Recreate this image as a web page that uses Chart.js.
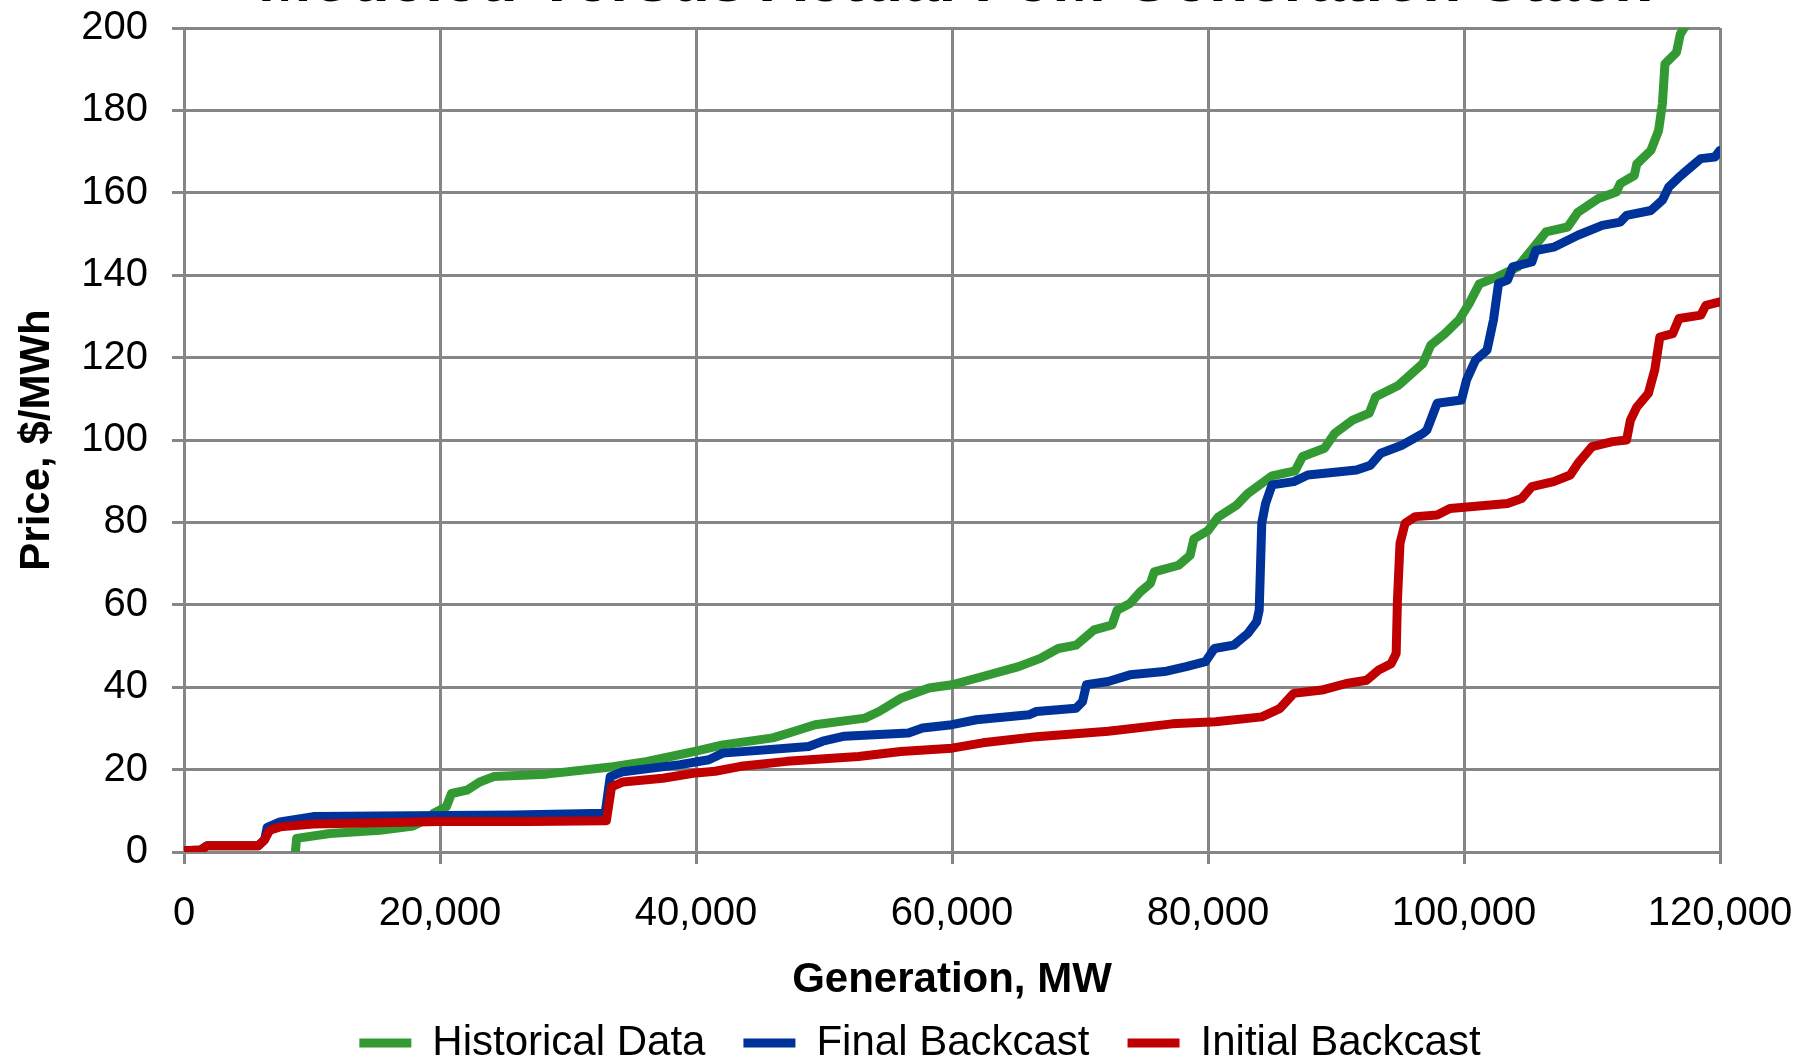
<!DOCTYPE html>
<html>
<head>
<meta charset="utf-8">
<script src="https://cdn.jsdelivr.net/npm/chart.js@4.4.1/dist/chart.umd.min.js"></script>
<style>
  html, body { margin: 0; padding: 0; background: #fff; overflow: hidden; }
  #wrap { position: relative; width: 1814px; height: 1058px; }
  #title {
    position: absolute; top: -53px; left: 954px; transform: translateX(-50%);
    font: bold 64px 'Liberation Sans', Arial, sans-serif; line-height: 1;
    white-space: nowrap; color: #000;
  }
</style>
</head>
<body>
<div id="wrap">
  <canvas id="chart"></canvas>
  <div id="title">Modeled Versus Actual PJM Generation Stack</div>
</div>
<script>
// Generation (MW) and price ($/MWh)
const histGen = [8700, 8800, 11400, 15300, 17900, 19000, 19500, 20500, 20900, 22100, 23100, 24200, 28300, 33500, 36100, 40000, 42100, 46000, 47700, 49300, 53200, 54300, 56000, 58200, 60000, 62400, 65200, 66900, 68300, 69700, 71100, 72500, 72900, 73900, 74700, 75500, 75800, 77700, 78600, 78900, 80000, 80800, 82200, 83100, 85000, 86800, 87400, 89100, 89900, 91300, 92600, 93100, 94900, 96800, 97400, 98500, 99600, 100400, 101200, 102600, 104200, 105900, 106400, 108100, 108900, 110500, 111900, 112200, 113300, 113500, 114600, 115200, 115500, 115700, 116600, 116900, 117400];
const histPrice = [0, 3.3, 4.5, 5.3, 6.3, 8, 9.4, 11, 14.2, 15, 17, 18.3, 18.9, 20.7, 21.9, 24.5, 26, 27.7, 29.3, 30.9, 32.5, 34.1, 37.3, 39.8, 40.6, 42.6, 45, 47, 49.4, 50.2, 53.9, 55.1, 58.7, 60.3, 63.1, 65.2, 68, 69.6, 72, 76, 78, 81.3, 84.1, 87, 91.3, 92.5, 96, 98, 101.6, 104.8, 106.5, 110.5, 113.3, 118.6, 123, 125.8, 129.1, 133.1, 137.9, 139.6, 142, 148.5, 150.5, 151.7, 155.3, 158.6, 160.2, 162.2, 164.2, 167, 170.3, 175.1, 181.6, 191.3, 194.1, 198.5, 201];

const finalGen = [0, 1300, 1800, 5800, 6300, 6500, 7500, 10100, 25700, 32900, 33300, 34300, 38750, 41000, 42100, 48800, 49900, 51600, 56600, 57700, 60000, 61900, 66000, 66600, 69700, 70200, 70500, 72200, 73900, 76600, 78300, 79800, 80500, 82000, 83100, 83800, 84000, 84200, 84500, 85000, 86700, 87800, 91600, 92700, 93500, 95200, 96800, 97100, 97900, 99800, 100200, 100900, 101800, 102300, 102700, 103400, 103800, 105300, 105600, 107000, 108900, 110800, 112200, 112700, 114600, 115500, 116000, 116800, 117700, 118500, 119600, 120000];
const finalPrice = [0.3, 0.5, 1.5, 1.5, 3, 6, 7.3, 8.6, 9.0, 9.4, 18.3, 19.5, 21.2, 22.4, 24, 25.6, 26.9, 28.1, 28.9, 30.1, 30.9, 32.1, 33.3, 34.1, 34.9, 36.5, 40.6, 41.4, 43, 43.8, 45, 46.2, 49.4, 50.2, 53, 55.9, 58.7, 79.8, 84.6, 89.1, 89.9, 91.5, 92.7, 93.9, 96.8, 98.8, 101.6, 102.4, 108.9, 109.7, 114.6, 119.4, 121.8, 129.1, 138, 138.8, 142, 143.2, 146, 146.8, 149.7, 152.1, 152.9, 154.5, 155.7, 158.2, 161.4, 163.8, 166.2, 168.3, 168.7, 170.3];

const initGen = [0, 1300, 1800, 5800, 6300, 6700, 7500, 10100, 20000, 27000, 33000, 33400, 34300, 37400, 40000, 41500, 43500, 47100, 52700, 56000, 60000, 62400, 66600, 72200, 77200, 80600, 84200, 85600, 86700, 88900, 90800, 92400, 93300, 94300, 94700, 94800, 95000, 95400, 96200, 97900, 98900, 103400, 104500, 105300, 107000, 108300, 108900, 110000, 111600, 112700, 113000, 113500, 114400, 114900, 115300, 116300, 116800, 118500, 118900, 120000];
const initPrice = [0.3, 0.5, 1.5, 1.5, 3, 5.3, 6.1, 6.8, 7.4, 7.4, 7.6, 15.8, 17, 17.9, 19.2, 19.6, 20.8, 22, 23.2, 24.4, 25.2, 26.5, 28, 29.3, 31.1, 31.6, 32.8, 34.8, 38.5, 39.3, 40.9, 41.7, 44.1, 45.7, 48.2, 61.1, 74.9, 79.8, 81.4, 81.8, 83.4, 84.6, 85.8, 88.7, 89.9, 91.5, 94.3, 98.4, 99.6, 100, 104.8, 108, 111.3, 117, 125, 125.8, 129.5, 130.3, 132.7, 133.5];

const seriesNames = ['Historical Data', 'Final Backcast', 'Initial Backcast'];
const seriesColors = ['#339933', '#003399', '#c00000'];

const FONT = "'Liberation Sans', Arial, sans-serif";
const GRID = '#868686';

const toPoints = (xs, ys) => xs.map((x, i) => ({ x: x, y: ys[i] }));
const sets = [toPoints(histGen, histPrice), toPoints(finalGen, finalPrice), toPoints(initGen, initPrice)];

new Chart(document.getElementById('chart'), {
  type: 'line',
  data: {
    datasets: sets.map((pts, i) => ({
      label: seriesNames[i],
      data: pts,
      borderColor: seriesColors[i],
      backgroundColor: seriesColors[i],
      borderWidth: 9,
      borderCapStyle: 'round',
      borderJoinStyle: 'round',
      pointRadius: 0,
      tension: 0,
      order: 2 - i   // red on top, like the original
    }))
  },
  options: {
    responsive: true,
    maintainAspectRatio: false,
    animation: false,
    // negative right padding moves the legend centre right; x axis keeps its own right margin
    layout: { padding: { left: 0, right: -26, top: 28, bottom: -16 } },
    plugins: {
      tooltip: { enabled: false },
      legend: {
        position: 'bottom',
        labels: {
          usePointStyle: true,
          pointStyle: 'line',
          pointStyleWidth: 52,
          padding: 38,
          color: '#000',
          font: { family: FONT, size: 42 },
          sort: (a, b) => a.datasetIndex - b.datasetIndex
        }
      }
    },
    scales: {
      x: {
        type: 'linear',
        min: 0,
        max: 120000,
        ticks: {
          stepSize: 20000,
          padding: 26,
          color: '#000',
          maxRotation: 0,
          font: { family: FONT, size: 40 }
        },
        grid: { color: GRID, lineWidth: 3, tickLength: 12, tickColor: GRID, tickWidth: 3 },
        border: { color: GRID, width: 3 },
        title: {
          display: true,
          text: 'Generation, MW',
          color: '#000',
          font: { family: FONT, size: 42, weight: 'bold' },
          padding: { top: 0, bottom: -22 }
        },
        afterFit: s => { s.height = 132; s.paddingLeft = 0; s.paddingRight = 94; }
      },
      y: {
        min: 0,
        max: 200,
        ticks: {
          stepSize: 20,
          padding: 24,
          color: '#000',
          font: { family: FONT, size: 40 }
        },
        grid: { color: GRID, lineWidth: 3, tickLength: 12, tickColor: GRID, tickWidth: 3 },
        border: { color: GRID, width: 3 },
        title: {
          display: true,
          text: 'Price, $/MWh',
          color: '#000',
          font: { family: FONT, size: 42, weight: 'bold' },
          padding: { top: 12, bottom: 0 }
        },
        afterFit: s => { s.width = 184; s.paddingTop = 0; s.paddingBottom = 0; }
      }
    }
  }
});
</script>
</body>
</html>
